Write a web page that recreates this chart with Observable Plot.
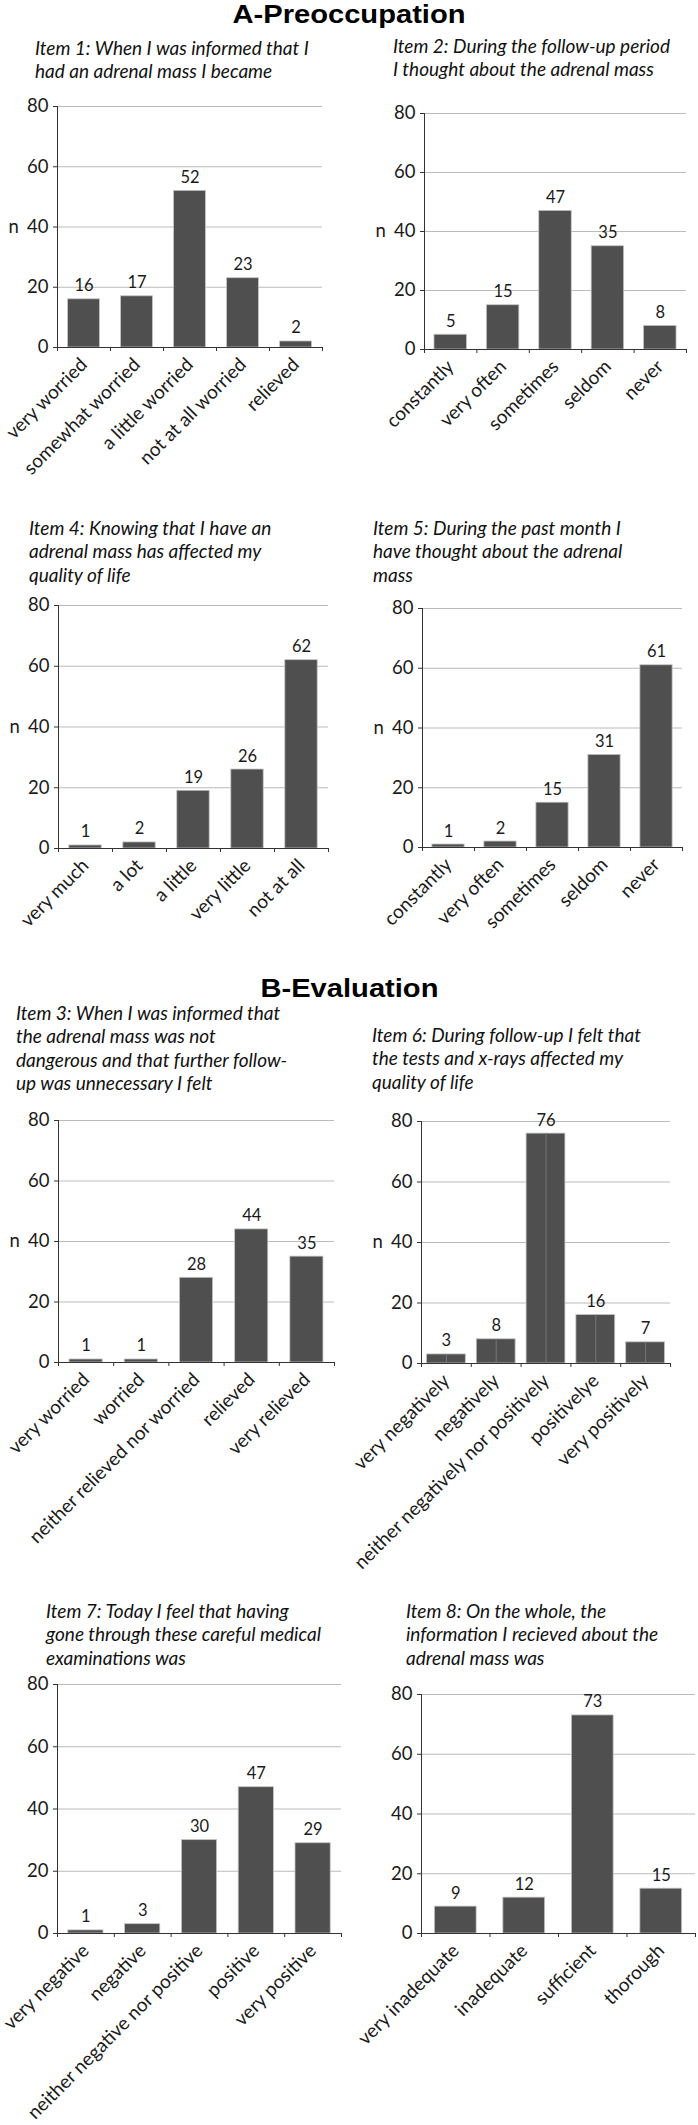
<!DOCTYPE html>
<html>
<head>
<meta charset="utf-8">
<script src="https://cdn.jsdelivr.net/npm/d3@7"></script>
<script src="https://cdn.jsdelivr.net/npm/@observablehq/plot@0.6"></script>
<style>
  body { margin: 0; background: #fff; }
  #page { position: relative; width: 698px; height: 2125px; overflow: hidden; font-family: Lato, sans-serif; color: #1a1a1a; }
  .section { position: absolute; left: 0; width: 698px; text-align: center; font: bold 26px "Liberation Sans", Arial, sans-serif; line-height: 26px; color: #000; }
  .section span { display: inline-block; transform: scaleX(1.12); }
  .item { position: absolute; font-style: italic; font-size: 19px; line-height: 23.3px; white-space: nowrap; color: #111; }
  .chart { position: absolute; }
</style>
</head>
<body>
<div id="page"></div>
<script>
// survey answers, counts
const item1Text = ["Item 1: When I was informed that I", "had an adrenal mass I became"]
const item1Cats = ["very worried", "somewhat worried", "a little worried", "not at all worried", "relieved"]
const item1N = [16, 17, 52, 23, 2]

const item2Text = ["Item 2: During the follow-up period", "I thought about the adrenal mass"]
const item2Cats = ["constantly", "very often", "sometimes", "seldom", "never"]
const item2N = [5, 15, 47, 35, 8]

const item4Text = ["Item 4: Knowing that I have an", "adrenal mass has affected my", "quality of life"]
const item4Cats = ["very much", "a lot", "a little", "very little", "not at all"]
const item4N = [1, 2, 19, 26, 62]

const item5Text = ["Item 5: During the past month I", "have thought about the adrenal", "mass"]
const item5Cats = ["constantly", "very often", "sometimes", "seldom", "never"]
const item5N = [1, 2, 15, 31, 61]

const item3Text = ["Item 3: When I was informed that", "the adrenal mass was not", "dangerous and that further follow-", "up was unnecessary I felt"]
const item3Cats = ["very worried", "worried", "neither relieved nor worried", "relieved", "very relieved"]
const item3N = [1, 1, 28, 44, 35]

const item6Text = ["Item 6: During follow-up I felt that", "the tests and x-rays affected my", "quality of life"]
const item6Cats = ["very negatively", "negatively", "neither negatively nor positively", "positivelye", "very positively"]
const item6N = [3, 8, 76, 16, 7]

const item7Text = ["Item 7: Today I feel that having", "gone through these careful medical", "examinations was"]
const item7Cats = ["very negative", "negative", "neither negative nor positive", "positive", "very positive"]
const item7N = [1, 3, 30, 47, 29]

const item8Text = ["Item 8: On the whole, the", "information I recieved about the", "adrenal mass was"]
const item8Cats = ["very inadequate", "inadequate", "sufficient", "thorough"]
const item8N = [9, 12, 73, 15]

const yTicks = [0, 20, 40, 60, 80]

// where each panel sits on the page
const panels = [
  {text: item1Text, cats: item1Cats, n: item1N, axis: 57, end: 322, top: 106, bottom: 347, tx: 35, base: 55, frac: 0.6, nLabel: true},
  {text: item2Text, cats: item2Cats, n: item2N, axis: 424, end: 686, top: 113, bottom: 349, tx: 393, base: 53, frac: 0.62, nLabel: true},
  {text: item4Text, cats: item4Cats, n: item4N, axis: 58, end: 328, top: 605, bottom: 848, tx: 29, base: 535, frac: 0.6, nLabel: true},
  {text: item5Text, cats: item5Cats, n: item5N, axis: 422, end: 682, top: 608, bottom: 847, tx: 373, base: 535, frac: 0.62, nLabel: true},
  {text: item3Text, cats: item3Cats, n: item3N, axis: 58, end: 334, top: 1120, bottom: 1362, tx: 16, base: 1020, frac: 0.6, nLabel: true},
  {text: item6Text, cats: item6Cats, n: item6N, axis: 421, end: 670, top: 1121, bottom: 1363, tx: 372, base: 1042, frac: 0.78, nLabel: true, split: true},
  {text: item7Text, cats: item7Cats, n: item7N, axis: 57, end: 341, top: 1684, bottom: 1933, tx: 46, base: 1618, frac: 0.62, nLabel: false},
  {text: item8Text, cats: item8Cats, n: item8N, axis: 421, end: 695, top: 1694, bottom: 1933, tx: 406, base: 1618, frac: 0.61, nLabel: false}
]

const page = d3.select('#page')

page.append('div').attr('class', 'section').style('top', '1px').append('span').text('A-Preoccupation')
page.append('div').attr('class', 'section').style('top', '975px').append('span').text('B-Evaluation')

function drawPanel(p) {
  const mL = 56, mR = 3, mT = 24, mB = 188
  const w = p.end - p.axis
  const h = p.bottom - p.top
  const step = w / p.cats.length
  const pad = 1 - p.frac
  const rows = p.cats.map((c, i) => ({c: c, n: p.n[i]}))
  const last = p.cats[p.cats.length - 1]
  const dark = '#333'

  const marks = [
    Plot.gridY(yTicks, {stroke: '#bbb', strokeOpacity: 1}),
    Plot.barY(rows, {x: 'c', y: 'n', fill: '#4f4f4f', stroke: '#c4c4c4', strokeWidth: 0.8}),
  ]
  if (p.split) marks.push(Plot.ruleX(rows, {x: 'c', y1: 0, y2: 'n', stroke: '#777', strokeWidth: 1}))
  marks.push(
    Plot.ruleY([0], {stroke: dark}),
    Plot.ruleX([p.cats[0]], {dx: -step / 2, y1: 0, y2: 80, stroke: dark}),
    Plot.ruleX(p.cats, {dx: -step / 2, y1: 0, y2: 0, insetBottom: -4, stroke: dark}),
    Plot.ruleX([last], {dx: step / 2, y1: 0, y2: 0, insetBottom: -4, stroke: dark}),
    Plot.axisY({ticks: yTicks, tickSize: 4, tickPadding: 5, label: null, stroke: dark}),
    Plot.axisX({tickSize: 0, tickPadding: 14, tickRotate: -45, label: null, fontSize: 19}),
    Plot.text(rows, {x: 'c', y: 'n', text: d => String(d.n), lineAnchor: 'bottom', dy: -8, fontSize: 16.5})
  )
  if (p.nLabel) marks.push(Plot.text(['n'], {text: d => d, y: 40, frameAnchor: 'left', dx: -49}))

  const chart = Plot.plot({
    width: w + mL + mR,
    height: h + mT + mB,
    marginLeft: mL, marginRight: mR, marginTop: mT, marginBottom: mB,
    style: {background: 'transparent', overflow: 'visible', fontFamily: 'Lato, sans-serif', fontSize: '18.5px', color: '#1a1a1a'},
    x: {type: 'band', domain: p.cats, paddingInner: pad, paddingOuter: pad / 2, round: false},
    y: {domain: [0, 80]},
    marks: marks
  })

  page.append('div').attr('class', 'chart')
    .style('left', (p.axis - mL) + 'px')
    .style('top', (p.top - mT) + 'px')
    .append(() => chart)

  const t = page.append('div').attr('class', 'item')
    .style('left', p.tx + 'px')
    .style('top', (p.base - 19) + 'px')
  p.text.forEach((line, i) => {
    if (i) t.append('br')
    t.append('span').text(line)
  })
}

panels.forEach(drawPanel)
</script>
</body>
</html>
